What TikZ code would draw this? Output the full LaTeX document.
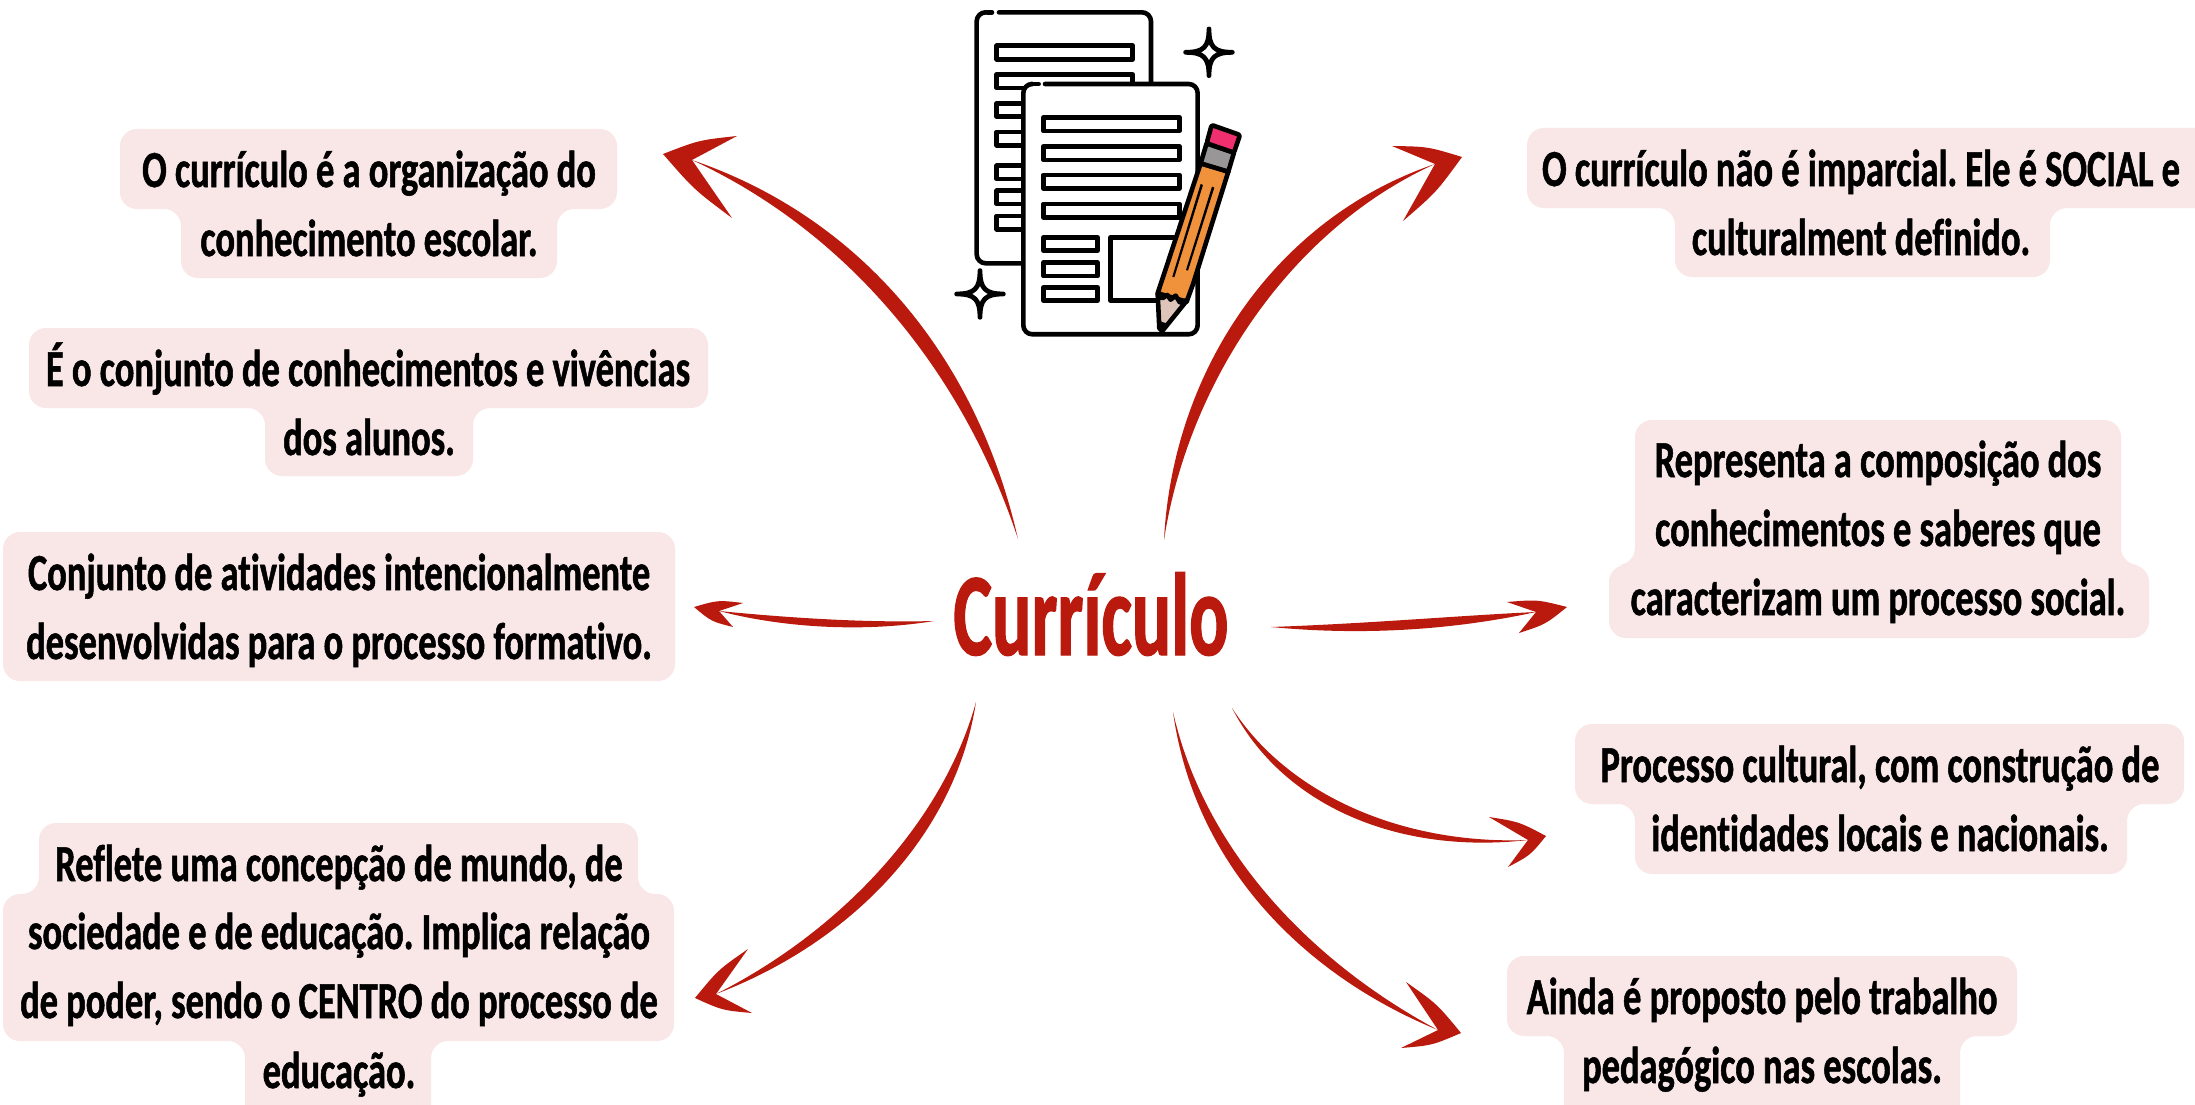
\documentclass[tikz,border=0pt]{standalone}
\usepackage{fontspec}
\usetikzlibrary{calc}
\frenchspacing
\newfontfamily\labfont[FakeStretch=0.7,FakeBold=1,Ligatures=NoCommon]{Carlito}
\newfontfamily\ttlfont[FakeStretch=0.62,FakeBold=1,Ligatures=NoCommon]{Carlito}
\definecolor{arrowred}{HTML}{B91A0D}
\definecolor{boxpink}{HTML}{F9E6E6}
\definecolor{pencilor}{HTML}{F0913C}
\definecolor{pencilpk}{HTML}{EF2F6E}
\definecolor{pencilgy}{HTML}{989696}
\definecolor{pencilwd}{HTML}{DFC5B9}
\tikzset{
  lab/.style={anchor=base,inner sep=0pt,font=\fontsize{52}{60}\labfont\bfseries,text=black},
  ttl/.style={anchor=base,inner sep=0pt,font=\fontsize{118}{120}\ttlfont\bfseries,text=arrowred},
  backbox/.style={fill=boxpink,rounded corners=17pt},
  ink/.style={draw=black,line width=4.6pt,line join=round,line cap=round},
  icon/.style={x=0.3333pt,y=-0.3333pt,shift={(930pt,0pt)}}
}
\newcommand{\crvarrow}[9]{%
  \coordinate (#1s) at #2; \coordinate (#1a) at #3; \coordinate (#1b) at #4;
  \coordinate (#1n) at #5; \coordinate (#1t) at #6; \coordinate (#1u) at #7; \coordinate (#1v) at #8;
  \fill[arrowred] (#1s) .. controls ($(#1a)+#9$) and ($(#1b)+#9$) .. (#1n)
     .. controls ($(#1b)-#9$) and ($(#1a)-#9$) .. (#1s) -- cycle;
  \fill[arrowred] (#1t) .. controls ($(#1t)!.5!(#1u)!5pt!90:(#1u)$) .. (#1u) -- (#1n) -- (#1v)
     .. controls ($(#1v)!.5!(#1t)!5pt!90:(#1t)$) .. (#1t) -- cycle;
}
\newcommand{\sparkle}[2]{%
  \draw[ink,fill=white,line width=4.8pt] (#1,#2-70) .. controls (#1,#2-16) and (#1+16,#2) .. (#1+70,#2)
    .. controls (#1+16,#2) and (#1,#2+16) .. (#1,#2+70)
    .. controls (#1,#2+16) and (#1-16,#2) .. (#1-70,#2)
    .. controls (#1-16,#2) and (#1,#2-16) .. (#1,#2-70) -- cycle;
}
\newcommand{\iconbar}[4]{\draw[ink,fill=white,line width=4.4pt] (#1,#3) rectangle (#2,#4);}
\begin{document}
\begin{tikzpicture}[x=1pt,y=-1pt]
\useasboundingbox (0,0) rectangle (2195,1105);
\fill[white] (0,0) rectangle (2195,1105);
% label backgrounds
\fill[backbox] (120,129) -- (617,129) -- (617,209) -- (557,209) -- (557,278) -- (181,278) -- (181,209) -- (120,209) -- cycle;
\fill[backbox] (29,328) -- (708,328) -- (708,408) -- (473,408) -- (473,476) -- (265,476) -- (265,408) -- (29,408) -- cycle;
\fill[backbox] (3,532) -- (675,532) -- (675,681) -- (3,681) -- cycle;
\fill[backbox] (39,823) -- (638,823) -- (638,894) -- (674,894) -- (674,1041) -- (431,1041) -- (431,1125) -- (245,1125) -- (245,1041) -- (3,1041) -- (3,894) -- (39,894) -- cycle;
\fill[backbox] (1527,128) -- (2220,128) -- (2220,208) -- (2050,208) -- (2050,277) -- (1675,277) -- (1675,208) -- (1527,208) -- cycle;
\fill[backbox] (1635,420) -- (2121,420) -- (2121,565) -- (2149,565) -- (2149,638) -- (1609,638) -- (1609,565) -- (1635,565) -- cycle;
\fill[backbox] (1575,724) -- (2184,724) -- (2184,804) -- (2127,804) -- (2127,874) -- (1635,874) -- (1635,804) -- (1575,804) -- cycle;
\fill[backbox] (1507,956) -- (2017,956) -- (2017,1036) -- (1960,1036) -- (1960,1125) -- (1564,1125) -- (1564,1036) -- (1507,1036) -- cycle;
% texts
\node[lab] (t1a) at (369,187) {O currículo é a organização do};
\node[lab] (t1b) at (369,256) {conhecimento escolar.};
\node[lab] (t2a) at (368,386) {É o conjunto de conhecimentos e vivências};
\node[lab] (t2b) at (369,455) {dos alunos.};
\node[lab] (t3a) at (339,590) {Conjunto de atividades intencionalmente};
\node[lab] (t3b) at (339,659) {desenvolvidas para o processo formativo.};
\node[lab] (t4a) at (339,881) {Reflete uma concepção de mundo, de};
\node[lab] (t4b) at (339,949) {sociedade e de educação. Implica relação};
\node[lab] (t4c) at (339,1018) {de poder, sendo o CENTRO do processo de};
\node[lab] (t4d) at (339,1088) {educação.};
\node[lab] (t5a) at (1861,186) {O currículo não é imparcial. Ele é SOCIAL e};
\node[lab] (t5b) at (1861,255) {culturalment definido.};
\node[lab] (t6a) at (1878,477) {Representa a composição dos};
\node[lab] (t6b) at (1878,546) {conhecimentos e saberes que};
\node[lab] (t6c) at (1878,615) {caracterizam um processo social.};
\node[lab] (t7a) at (1880,782) {Processo cultural, com construção de};
\node[lab] (t7b) at (1880,851) {identidades locais e nacionais.};
\node[lab] (t8a) at (1762,1014) {Ainda é proposto pelo trabalho};
\node[lab] (t8b) at (1762,1083) {pedagógico nas escolas.};
\node[ttl] (title) at (1091,655) {Currículo};
% arrows
\crvarrow{aa}{(1018,539)}{(970,365)}{(855,225)}{(692,160)}{(663,154)}{(737,136)}{(732,218)}{(7,-7)}
\crvarrow{ab}{(1164,540)}{(1180,380)}{(1280,225)}{(1435,164)}{(1462,157)}{(1403,221)}{(1392,146)}{(7.6,5.8)}
\crvarrow{ac}{(934,621)}{(860,628)}{(780,622)}{(719,611)}{(694,607)}{(743,603)}{(733,627)}{(0,5)}
\crvarrow{ad}{(1271,627)}{(1370,630)}{(1460,622)}{(1536,612)}{(1567,607)}{(1519,633)}{(1507,602)}{(0,6.5)}
\crvarrow{ae}{(976,702)}{(950,825)}{(850,935)}{(716,994)}{(695,998)}{(748,949)}{(752,1013)}{(6.3,5.5)}
\crvarrow{af}{(1232,708)}{(1285,800)}{(1400,850)}{(1528,840)}{(1546,836)}{(1508,867)}{(1489,817)}{(-3,5)}
\crvarrow{ag}{(1173,712)}{(1200,860)}{(1310,970)}{(1438,1030)}{(1461,1033)}{(1401,1048)}{(1406,982)}{(-5.5,5.5)}
% icon
\begin{scope}[icon]
  \draw[ink,rounded corners=9pt] (207,37) -- (663,37) -- (663,790) -- (140,790) -- (140,37) -- (165,37);
  \draw[ink] (172,37) -- (186,37);
  \iconbar{200}{608}{137}{178}
  \iconbar{200}{608}{223}{264}
  \iconbar{200}{608}{310}{350}
  \iconbar{200}{608}{396}{436}
  \iconbar{200}{608}{497}{537}
  \iconbar{200}{608}{572}{612}
  \iconbar{200}{608}{648}{688}
  \fill[white,rounded corners=9pt] (280,252) rectangle (803,1003);
  \draw[ink,rounded corners=9pt] (345,252) -- (803,252) -- (803,1003) -- (280,1003) -- (280,252) -- (303,252);
  \draw[ink] (312,252) -- (326,252);
  \iconbar{340}{748}{352}{393}
  \iconbar{340}{748}{439}{480}
  \iconbar{340}{748}{525}{566}
  \iconbar{340}{748}{612}{652}
  \iconbar{340}{503}{712}{752}
  \iconbar{340}{503}{788}{828}
  \iconbar{340}{503}{862}{902}
  \draw[ink,fill=white,line width=4.4pt] (542,712) rectangle (745,902);
  \draw[ink,fill=pencilor] (812,490) -- (895,515) -- (790,850) -- (770,905) -- (683,880) -- cycle;
  \draw[ink,fill=pencilgy] (830,430) -- (912,458) -- (895,515) -- (812,490) -- cycle;
  \draw[ink,fill=pencilpk,rounded corners=2pt] (845,375) -- (930,405) -- (912,458) -- (830,430) -- cycle;
  \draw[ink,fill=pencilwd] (683,880) -- (697,895) -- (712,885) -- (722,899) -- (737,887) -- (750,908) -- (772,900) -- (697,993) -- (688,985) -- cycle;
  \fill[black] (686,962) -- (714,972) -- (697,997) -- (687,990) -- cycle;
  \fill[black] (812,552) -- (819,555) -- (733,832) -- (727,830) -- cycle;
  \fill[black] (846,560) -- (853,563) -- (774,812) -- (768,810) -- cycle;
  \sparkle{837}{157}
  \sparkle{150}{882}
\end{scope}
\end{tikzpicture}
\end{document}
